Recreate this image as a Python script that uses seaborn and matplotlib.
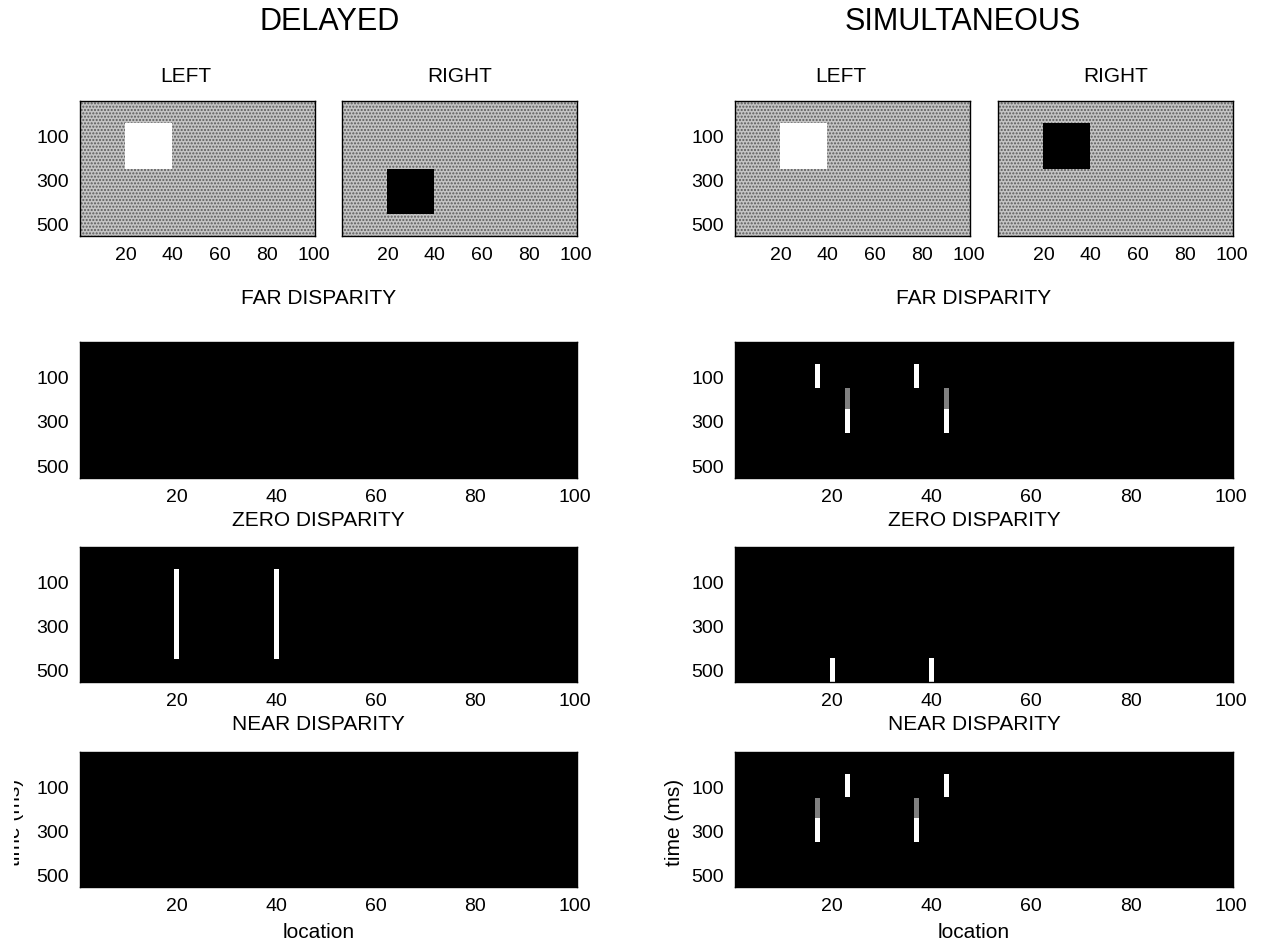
import numpy as np
import pandas as pd
import matplotlib
matplotlib.use("Agg")
import matplotlib.pyplot as plt
from matplotlib.transforms import Bbox, TransformedBbox
import seaborn as sns

sns.set_theme(style="white")
plt.rcParams['font.family'] = ['Liberation Sans', 'DejaVu Sans']
plt.rcParams['text.color'] = 'black'
plt.rcParams['xtick.color'] = 'black'
plt.rcParams['ytick.color'] = 'black'

# ---------------- data ----------------
locations = list(range(1, 101))            # location columns 1..100
time_range = (-58, 553)                     # ms, top -> bottom of each panel
x_ticks = [20, 40, 60, 80, 100]
y_ticks = [100, 300, 500]

# stimulus squares: (x_start, x_end, t_start, t_end, value) value 1=white, 0=black
delayed_left = [(20, 40, 40, 250, 1.0)]
delayed_right = [(20, 40, 250, 455, 0.0)]
simult_left = [(20, 40, 40, 250, 1.0)]
simult_right = [(20, 40, 40, 250, 0.0)]

# disparity responses: (location, t_start, t_end, strength) 1=solid, 0.5=dotted
delayed_far = []
delayed_zero = [(20, 43, 449, 1.0), (40, 43, 449, 1.0)]
delayed_near = []
simult_far = [(17, 43, 150, 1.0), (37, 43, 150, 1.0),
              (23, 150, 241, 0.5), (23, 241, 351, 1.0),
              (43, 150, 241, 0.5), (43, 241, 351, 1.0)]
simult_zero = [(20, 443, 553, 1.0), (40, 443, 553, 1.0)]
simult_near = [(17, 150, 241, 0.5), (17, 241, 348, 1.0),
               (23, 40, 144, 1.0),
               (37, 150, 241, 0.5), (37, 241, 348, 1.0),
               (43, 40, 144, 1.0)]

W, H = 1261, 948
fig = plt.figure(figsize=(W / 100, H / 100), dpi=100)

times = np.arange(time_range[0], time_range[1])  # 1 ms rows


def px_axes(x0, x1, y0, y1):
    return fig.add_axes([x0 / W, 1 - y1 / H, (x1 - x0) / W, (y1 - y0) / H])


def stim_matrix(squares):
    m = np.full((len(times), len(locations)), np.nan)
    for xs, xe, ts, te, v in squares:
        rows = (times >= ts) & (times < te)
        cols = np.array([(l >= xs) and (l < xe) for l in locations])
        m[np.ix_(rows, cols)] = v
    return pd.DataFrame(m, index=times, columns=locations)


def resp_matrix(bars):
    m = np.zeros((len(times), len(locations)))
    for loc, ts, te, v in bars:
        rows = (times >= ts) & (times < te)
        m[rows, locations.index(loc)] = v
    return pd.DataFrame(m, index=times, columns=locations)


def style_ticks(ax, show_y=True, fs=14):
    ax.set_xticks([locations.index(t) + 0.5 for t in x_ticks])
    ax.set_xticklabels([str(t) for t in x_ticks], rotation=0, fontsize=fs)
    ax.set_yticks([(t - time_range[0]) + 0.5 for t in y_ticks])
    if show_y:
        ax.set_yticklabels([str(t) for t in y_ticks], rotation=0, fontsize=fs)
    else:
        ax.set_yticklabels([])
    ax.tick_params(length=0, pad=8, colors='black')
    ax.set_xlabel('')
    ax.set_ylabel('')
    for s in ax.spines.values():
        s.set_visible(True)
        s.set_color('black')
        s.set_linewidth(1.0)


def draw_stim(ax, squares, show_y):
    df = stim_matrix(squares)
    ax.patch.set_facecolor('#c4c4c4')
    ax.patch.set_hatch('.....')
    ax.patch.set_edgecolor('#5a5a5a')
    ax.patch.set_linewidth(0)
    sns.heatmap(df, ax=ax, cmap='gray', vmin=0, vmax=1, cbar=False,
                mask=df.isna(), xticklabels=False, yticklabels=False,
                rasterized=True)
    style_ticks(ax, show_y)


def draw_resp(ax, bars):
    df = resp_matrix(bars)
    sns.heatmap(df, ax=ax, cmap='gray', vmin=0, vmax=1, cbar=False,
                xticklabels=False, yticklabels=False, rasterized=True)
    style_ticks(ax)


columns = [
    dict(title='DELAYED', tx=330, left=delayed_left, right=delayed_right,
         far=delayed_far, zero=delayed_zero, near=delayed_near,
         sl=(80, 315), sr=(342, 577), wide=(80, 577), ylx=15),
    dict(title='SIMULTANEOUS', tx=963, left=simult_left, right=simult_right,
         far=simult_far, zero=simult_zero, near=simult_near,
         sl=(735, 970), sr=(998, 1233), wide=(735, 1233), ylx=675),
]

for c in columns:
    fig.text(c['tx'] / W, 1 - 22 / H, c['title'], ha='center', va='center',
             fontsize=22)
    ax = px_axes(c['sl'][0], c['sl'][1], 101, 236)
    draw_stim(ax, c['left'], True)
    fig.text((c['sl'][0] + c['sl'][1]) / 2 / W - 12 / W, 1 - 76 / H, 'LEFT',
             ha='center', va='center', fontsize=15)
    ax = px_axes(c['sr'][0], c['sr'][1], 101, 236)
    draw_stim(ax, c['right'], False)
    fig.text((c['sr'][0] + c['sr'][1]) / 2 / W, 1 - 76 / H, 'RIGHT',
             ha='center', va='center', fontsize=15)

    wx0, wx1 = c['wide']
    for name, key, y0, y1, ty in [('FAR DISPARITY', 'far', 342, 478, 299),
                                  ('ZERO DISPARITY', 'zero', 547, 682, 521),
                                  ('NEAR DISPARITY', 'near', 752, 887, 725)]:
        ax = px_axes(wx0, wx1, y0, y1)
        draw_resp(ax, c[key])
        fig.text((wx0 + wx1) / 2 / W - 10 / W, 1 - ty / H, name,
                 ha='center', va='center', fontsize=15)
        if key == 'near':
            fig.text((wx0 + wx1) / 2 / W - 10 / W, 1 - 932 / H, 'location',
                     ha='center', va='center', fontsize=15)
            t = fig.text(c['ylx'] / W, 1 - 822 / H, 'time (ms)',
                         ha='center', va='center', rotation=90, fontsize=15)
            if c['ylx'] < 40:
                t.set_clip_box(TransformedBbox(
                    Bbox([[14 / W, 0], [1, 1]]), fig.transFigure))
                t.set_clip_on(True)

fig.savefig('out.png', dpi=100, facecolor='white')
